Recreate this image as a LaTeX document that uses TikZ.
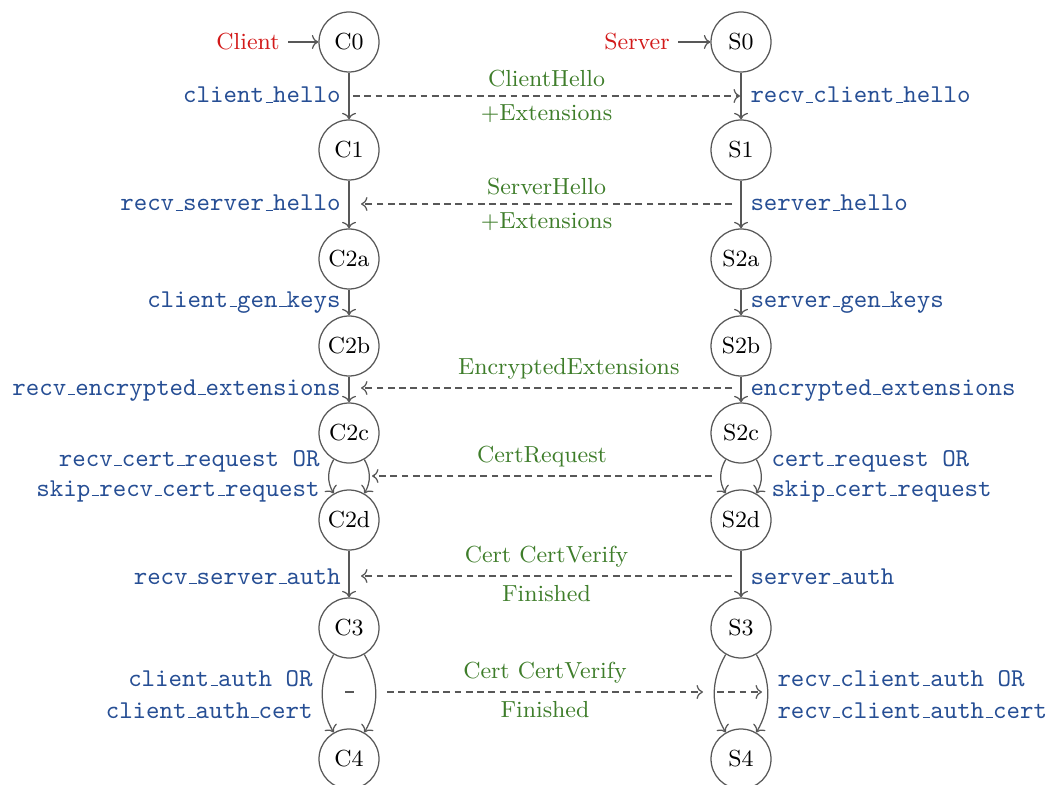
\documentclass[tikz,border=0pt]{standalone}
\usetikzlibrary{arrows.meta}
\definecolor{linegray}{RGB}{88,88,88}
\definecolor{msggreen}{RGB}{62,125,42}
\definecolor{fnblue}{RGB}{38,78,148}
\definecolor{rolered}{RGB}{210,25,25}
\newcommand{\rmsize}{\fontsize{9.3}{11}\selectfont}
\newcommand{\ttsize}{\fontsize{10.27}{12}\selectfont\ttfamily}
% narrow underscore rule sitting on the baseline
\newcommand{\ulbar}{\kern0.6pt\vbox{\hrule width 3pt}}
\begin{document}
\begin{tikzpicture}[x=0.4pt,y=-0.4pt,
  state/.style={circle,draw=linegray,line width=0.5pt,minimum size=24pt,inner sep=0pt,font=\rmsize},
  trans/.style={draw=linegray,line width=0.5pt,-{To[length=2.6pt,width=5.6pt]}},
  msg/.style={trans,dash pattern=on 2.7pt off 1.8pt},
  fn/.style={text=fnblue,font=\ttsize,inner sep=0pt},
  fnl/.style={fn,anchor=base east},
  fnr/.style={fn,anchor=base west},
  note/.style={text=msggreen,font=\rmsize},
  role/.style={text=rolered,font=\rmsize}]
\useasboundingbox (0,0) rectangle (1052,785);

% client state machine
\node[state] (C0)  at (349,42)  {C0};
\node[state] (C1)  at (349,150) {C1};
\node[state] (C2a) at (349,259) {C2a};
\node[state] (C2b) at (349,346) {C2b};
\node[state] (C2c) at (349,433) {C2c};
\node[state] (C2d) at (349,520) {C2d};
\node[state] (C3)  at (349,628) {C3};
\node[state] (C4)  at (349,759) {C4};

% server state machine
\node[state] (S0)  at (741,42)  {S0};
\node[state] (S1)  at (741,150) {S1};
\node[state] (S2a) at (741,259) {S2a};
\node[state] (S2b) at (741,346) {S2b};
\node[state] (S2c) at (741,433) {S2c};
\node[state] (S2d) at (741,520) {S2d};
\node[state] (S3)  at (741,628) {S3};
\node[state] (S4)  at (741,759) {S4};

% entry points
\node[role] (client) at (248,42) {Client};
\node[role] (server) at (637,42) {Server};
\draw[trans] (client) -- (C0);
\draw[trans] (server) -- (S0);

% client transitions
\draw[trans] (C0) -- (C1);
\draw[trans] (C1) -- (C2a);
\draw[trans] (C2a) -- (C2b);
\draw[trans] (C2b) -- (C2c);
\draw[trans] (C2c) to[bend right] (C2d);
\draw[trans] (C2c) to[bend left] (C2d);
\draw[trans] (C2d) -- (C3);
\draw[trans] (C3) to[bend right] (C4);
\draw[trans] (C3) to[bend left] (C4);

% server transitions
\draw[trans] (S0) -- (S1);
\draw[trans] (S1) -- (S2a);
\draw[trans] (S2a) -- (S2b);
\draw[trans] (S2b) -- (S2c);
\draw[trans] (S2c) to[bend right] (S2d);
\draw[trans] (S2c) to[bend left] (S2d);
\draw[trans] (S2d) -- (S3);
\draw[trans] (S3) to[bend right] (S4);
\draw[trans] (S3) to[bend left] (S4);

% client function labels
\node[fnl] (fc1) at (341,103) {client\ulbar hello};
\node[fnl] (fc2) at (341,211) {recv\ulbar server\ulbar hello};
\node[fnl] (fc3) at (341,307) {client\ulbar gen\ulbar keys};
\node[fnl] (fc4) at (341,395) {recv\ulbar encrypted\ulbar extensions};
\node[fnl] (fc5) at (320,466) {recv\ulbar cert\ulbar request OR};
\node[fnl] (fc6) at (320,496) {skip\ulbar recv\ulbar cert\ulbar request};
\node[fnl] (fc7) at (341,584) {recv\ulbar server\ulbar auth};
\node[fnl] (fc8) at (313,686) {client\ulbar auth OR};
\node[fnl] (fc9) at (313,718) {client\ulbar auth\ulbar cert};

% server function labels
\node[fnr] (fs1) at (750,103) {recv\ulbar client\ulbar hello};
\node[fnr] (fs2) at (750,211) {server\ulbar hello};
\node[fnr] (fs3) at (750,307) {server\ulbar gen\ulbar keys};
\node[fnr] (fs4) at (750,395) {encrypted\ulbar extensions};
\node[fnr] (fs5) at (771,466) {cert\ulbar request OR};
\node[fnr] (fs6) at (771,496) {skip\ulbar cert\ulbar request};
\node[fnr] (fs7) at (750,584) {server\ulbar auth};
\node[fnr] (fs8) at (777,686) {recv\ulbar client\ulbar auth OR};
\node[fnr] (fs9) at (777,718) {recv\ulbar client\ulbar auth\ulbar cert};

% message end points
\coordinate (m1a) at (353,96);  \coordinate (m1b) at (740,96);
\coordinate (m2a) at (732,204); \coordinate (m2b) at (361,204);
\coordinate (m3a) at (732,388); \coordinate (m3b) at (361,388);
\coordinate (m4a) at (712,476); \coordinate (m4b) at (372,476);
\coordinate (m5a) at (732,576); \coordinate (m5b) at (361,576);
\coordinate (m6a) at (387,692); \coordinate (m6b) at (703,692);
\coordinate (m7a) at (717,692); \coordinate (m7b) at (762,692);
\coordinate (d1) at (345,692);  \coordinate (d2) at (354,692);

% messages
\draw[msg] (m1a) -- node[note,above] (t1) {ClientHello} node[note,below] (t2) {+Extensions} (m1b);
\draw[msg] (m2a) -- node[note,above] (t3) {ServerHello} node[note,below] (t4) {+Extensions} (m2b);
\draw[msg] (m3a) -- node[note,above,pos=0.44] (t5) {EncryptedExtensions} (m3b);
\draw[msg] (m4a) -- node[note,above] (t6) {CertRequest} (m4b);
\draw[msg] (m5a) -- node[note,above] (t7) {Cert CertVerify} node[note,below] (t8) {Finished} (m5b);
\draw[msg] (m6a) -- node[note,above,pos=0.5] (t9) {Cert CertVerify} node[note,below,pos=0.5] (t10) {Finished} (m6b);
\draw[msg] (m7a) -- (m7b);
\draw[draw=linegray,line width=0.5pt] (d1) -- (d2);
\end{tikzpicture}
\end{document}
